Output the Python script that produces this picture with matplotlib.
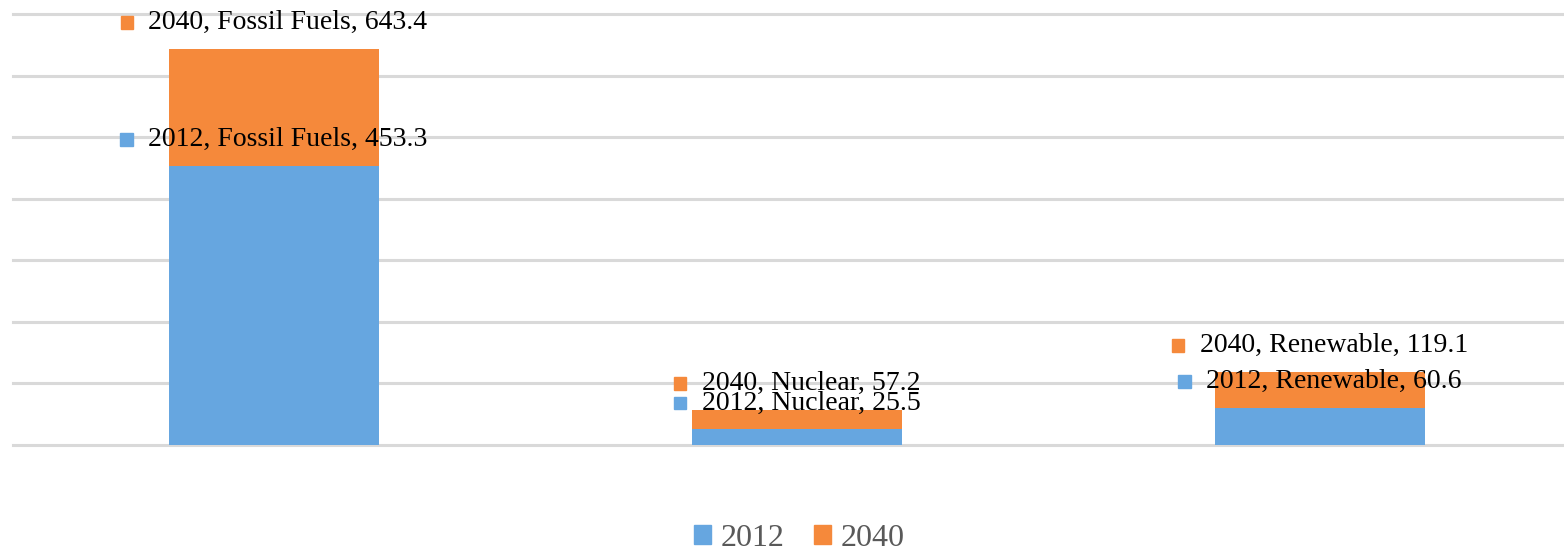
import numpy as np
import matplotlib.pyplot as plt
from matplotlib.patches import Rectangle, Patch
from matplotlib.offsetbox import AnnotationBbox, DrawingArea, HPacker, TextArea

categories = ["Fossil Fuels", "Nuclear", "Renewable"]
years = ["2012", "2040"]
values_2012 = [453.3, 25.5, 60.6]
values_2040 = [643.4, 57.2, 119.1]

blue = "#66A6E0"
orange = "#F5893B"
serif = ["Liberation Serif", "DejaVu Serif"]

fig = plt.figure(figsize=(15.64, 5.53), dpi=100)
ax = fig.add_axes([12.5 / 1564, 1 - 445 / 553, 1569 / 1564, 431 / 553])

x = np.arange(len(categories))
width = 0.4

# overlapped bars: 2040 behind, 2012 in front
ax.bar(x, values_2040, width, color=orange, zorder=2)
ax.bar(x, values_2012, width, color=blue, zorder=3)

ax.set_xlim(-0.5, 2.5)
ax.set_ylim(0, 700)
ax.set_yticks(np.arange(0, 701, 100))
ax.yaxis.grid(True, color="#D9D9D9", linewidth=2.2, zorder=0)
for gl in ax.get_ygridlines():
    gl.set_clip_on(False)
ax.set_xticks([])
ax.tick_params(left=False, labelleft=False)
for s in ax.spines.values():
    s.set_visible(False)


def add_label(xpos, val, year, cat, color, dy):
    box = DrawingArea(9, 9)
    box.add_artist(Rectangle((0, 0), 9, 9, color=color))
    txt = TextArea(f"{year}, {cat}, {val}",
                   textprops=dict(family=serif, fontsize=20, color="black"))
    pack = HPacker(children=[box, txt], align="center", pad=0, sep=11)
    ab = AnnotationBbox(pack, (xpos, val), xybox=(0, dy), xycoords="data",
                        boxcoords="offset points", frameon=False, zorder=5)
    ax.add_artist(ab)


for i, cat in enumerate(categories):
    add_label(x[i], values_2040[i], "2040", cat, orange, 19)
    add_label(x[i], values_2012[i], "2012", cat, blue, 19)

handles = [Patch(color=blue), Patch(color=orange)]
leg = fig.legend(handles, years, loc="center", bbox_to_anchor=(0.511, 1 - 538 / 553),
                 ncol=2, frameon=False, handlelength=0.55, handleheight=0.55,
                 handletextpad=0.3, columnspacing=0.9,
                 prop=dict(family=serif, size=23))
for t in leg.get_texts():
    t.set_color("#595959")

fig.savefig("out.png", dpi=100)
